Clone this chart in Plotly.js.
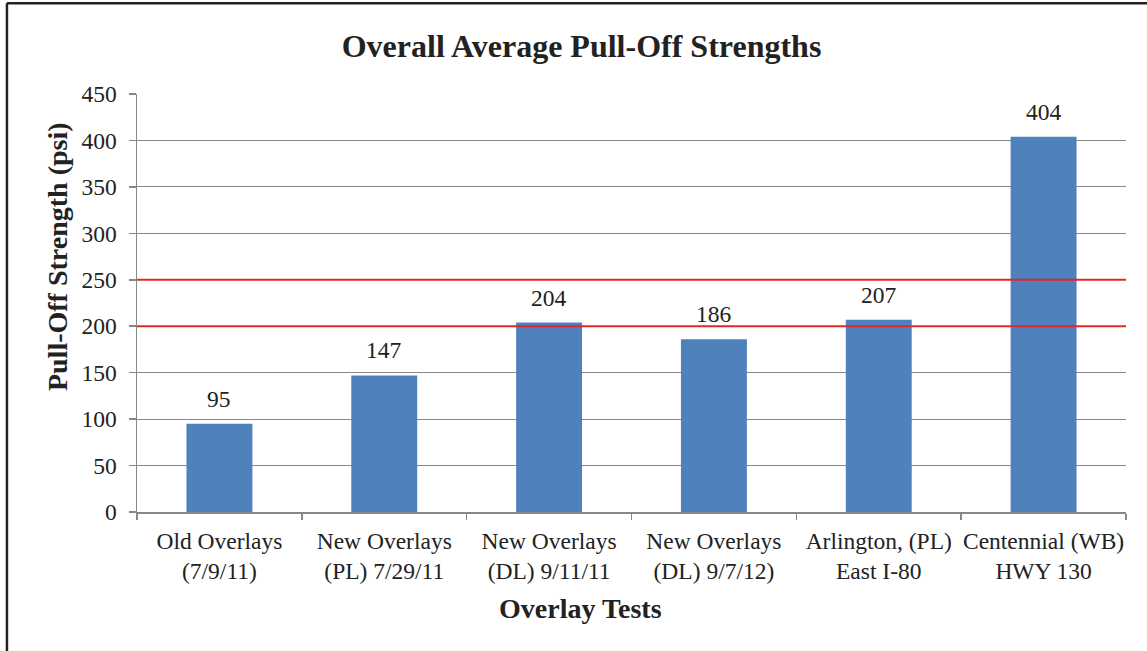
<!DOCTYPE html>
<html>
<head>
<meta charset="utf-8">
<script src="https://cdn.plot.ly/plotly-3.0.1.min.js"></script>
<style>
html,body{margin:0;padding:0;background:#fff;}
#chart{width:1147px;height:651px;}
</style>
</head>
<body>
<div id="chart"></div>
<script>
const categories = [
  "Old Overlays<br>(7/9/11)",
  "New Overlays<br>(PL) 7/29/11",
  "New Overlays<br>(DL) 9/11/11",
  "New Overlays<br>(DL) 9/7/12)",
  "Arlington, (PL)<br>East I-80",
  "Centennial (WB)<br>HWY 130"
];
const strengths = [95, 147, 204, 186, 207, 404];
const thresholds = [200, 250];
const yTicks = [0, 50, 100, 150, 200, 250, 300, 350, 400, 450];

const serif = "'Liberation Serif', 'Times New Roman', serif";
const gray = "#888888";

const trace = {
  type: "bar",
  x: categories,
  y: strengths,
  marker: {color: "#4F81BD"},
  hoverinfo: "x+y"
};

const shapes = thresholds.map(v => ({
  type: "line", xref: "paper", yref: "y",
  x0: 0, x1: 1, y0: v, y1: v,
  line: {color: "#E3262C", width: 2}
}));
// frame edges (left and top)
shapes.push({type:"line", xref:"paper", yref:"paper", x0:-0.1315, x1:-0.1315, y0:-0.34, y1:1.217, line:{color:"#222", width:2.5}});
shapes.push({type:"line", xref:"paper", yref:"paper", x0:-0.1315, x1:1.03, y0:1.217, y1:1.217, line:{color:"#222", width:2.5}});

const annotations = strengths.map((v, i) => ({
  x: categories[i], y: v, xref: "x", yref: "y",
  text: String(v), showarrow: false,
  yanchor: "middle", yshift: 25,
  font: {family: serif, size: 23.5, color: "#222"}
}));
annotations.push({
  text: "Pull-Off Strength (psi)", xref: "paper", yref: "paper",
  x: -0.081, y: 0.612, textangle: -90, showarrow: false,
  xanchor: "center", yanchor: "middle",
  font: {family: serif, size: 28, color: "#222", weight: "bold"}
});
annotations.push({
  text: "Overlay Tests", xref: "paper", yref: "paper",
  x: 0.448, y: -0.232, showarrow: false,
  xanchor: "center", yanchor: "middle",
  font: {family: serif, size: 28, color: "#222", weight: "bold"}
});

const layout = {
  width: 1147, height: 651,
  margin: {l: 137, r: 21, t: 94, b: 139},
  paper_bgcolor: "#fff", plot_bgcolor: "#fff",
  title: {
    text: "<b>Overall Average Pull-Off Strengths</b>",
    x: 0.507, xref: "container", xanchor: "center",
    y: 0.93, yref: "container", yanchor: "middle",
    font: {family: serif, size: 32, color: "#222"}
  },
  bargap: 0.6,
  showlegend: false,
  xaxis: {
    type: "category",
    showline: true, linecolor: gray, linewidth: 1.5,
    ticks: "outside", tickson: "boundaries", ticklen: 6, tickcolor: gray, tickwidth: 1.5,
    ticklabelstandoff: 7,
    tickangle: 0,
    showgrid: false,
    tickfont: {family: serif, size: 23.5, color: "#222"}
  },
  yaxis: {
    range: [0, 450],
    tickvals: yTicks,
    showline: true, linecolor: gray, linewidth: 1.5,
    ticks: "outside", ticklen: 7, tickcolor: gray, tickwidth: 1.5,
    ticklabelstandoff: 7,
    showgrid: true, gridcolor: gray, gridwidth: 1.2,
    zeroline: false,
    tickfont: {family: serif, size: 23.5, color: "#222"}
  },
  shapes: shapes,
  annotations: annotations
};

Plotly.newPlot("chart", [trace], layout, {displayModeBar: false, staticPlot: true});
</script>
</body>
</html>
